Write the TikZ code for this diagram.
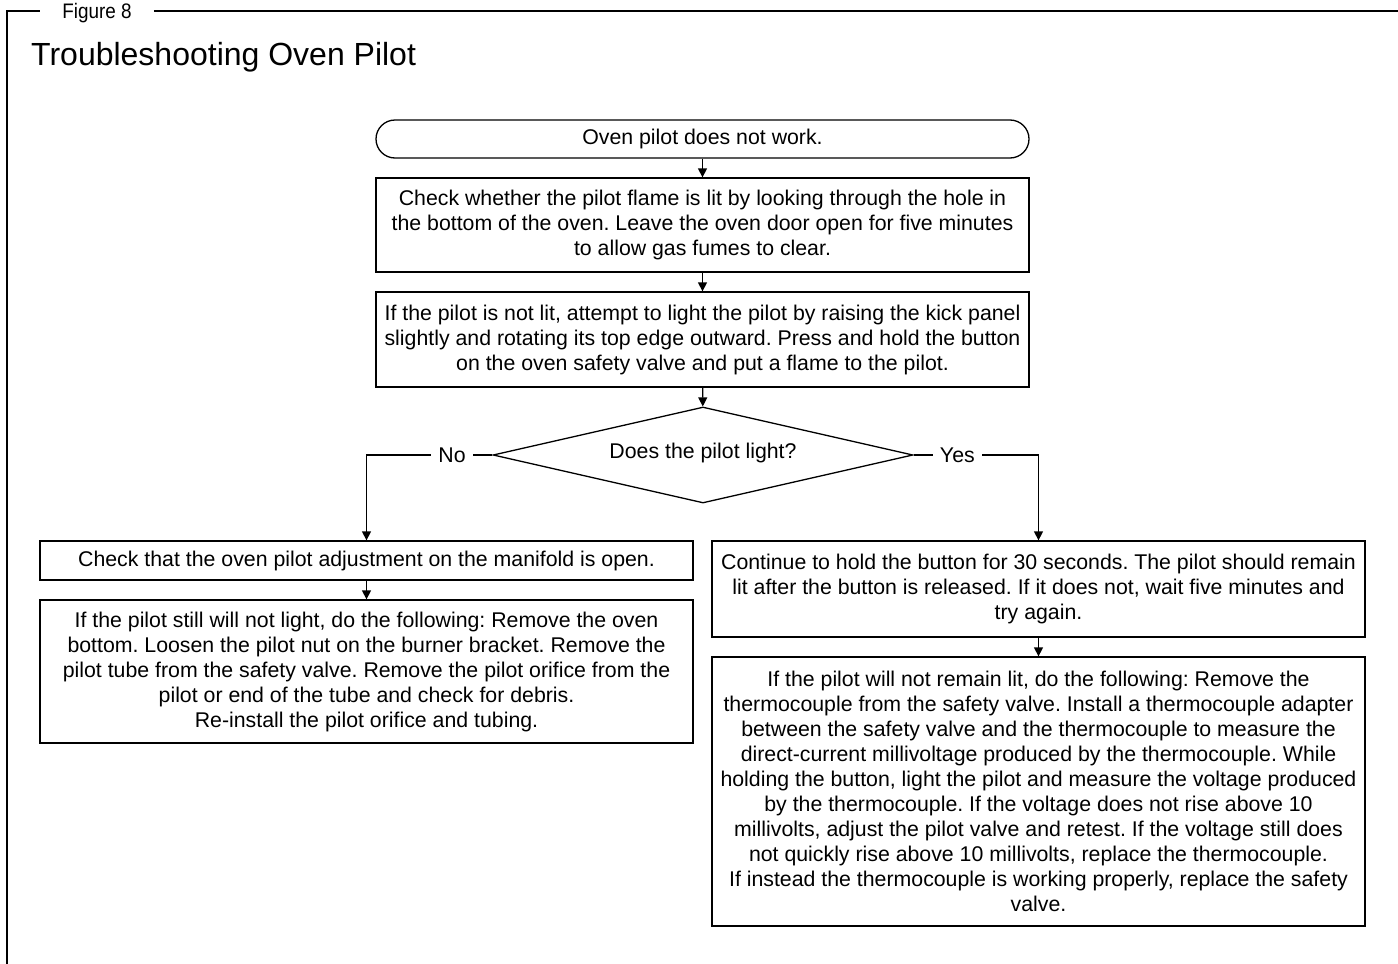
\documentclass[tikz,border=0pt]{standalone}
\usepackage{fontspec}
\setmainfont{Liberation Sans}
\usetikzlibrary{arrows.meta,shapes.geometric}
\frenchspacing
\begin{document}
\begin{tikzpicture}[x=1pt,y=-1pt,
  txt/.style={font=\fontsize{21.3}{25}\selectfont},
  box/.style={txt,draw,line width=1.3pt,align=center,inner sep=0pt,minimum width=653pt},
  term/.style={box,rounded corners=19pt},
  dec/.style={txt,draw,line width=1.3pt,diamond,inner sep=0pt,minimum width=420pt,minimum height=96pt,aspect=4.4},
  conn/.style={line width=1.3pt,-{Triangle[length=9pt,width=9pt]}},
  lbl/.style={txt,fill=white,inner xsep=7pt,inner ysep=2pt},
  frame/.style={line width=2.8pt}]
\useasboundingbox (0,0) rectangle (1398,964);
% frame
\node[font=\fontsize{21}{25}\selectfont,inner sep=0pt] (fig) at (97,13) {\scalebox{0.9}[1]{Figure 8}};
\coordinate (fbl) at (7,964);
\coordinate (ftl) at (7,11);
\coordinate (fr) at (1398,11);
\draw[frame] (fbl) -- (ftl) -- ([xshift=-22pt]fig.west |- ftl);
\draw[frame] ([xshift=22pt]fig.east |- ftl) -- (fr);
\node[anchor=west,font=\fontsize{32}{36}\selectfont,inner sep=0pt] (title) at (31,57) {Troubleshooting Oven Pilot};
% nodes
\node[term,minimum height=38pt] (start) at (702.5,139) {Oven pilot does not work.};
\node[box,minimum height=94pt] (b1) at (702.5,225) {Check whether the pilot flame is lit by looking through the hole in\\the bottom of the oven. Leave the oven door open for five minutes\\to allow gas fumes to clear.};
\node[box,minimum height=95pt] (b2) at (702.5,339.5) {If the pilot is not lit, attempt to light the pilot by raising the kick panel\\slightly and rotating its top edge outward. Press and hold the button\\on the oven safety valve and put a flame to the pilot.};
\node[dec] (dia) at (703,455) {};
\node[txt,inner sep=0pt] (diat) at (703,453) {Does the pilot light?};
\node[box,minimum height=39pt] (l1) at (366.5,560.5) {Check that the oven pilot adjustment on the manifold is open.};
\node[box,minimum height=143pt] (l2) at (366.5,671.5) {If the pilot still will not light, do the following: Remove the oven\\bottom. Loosen the pilot nut on the burner bracket. Remove the\\pilot tube from the safety valve. Remove the pilot orifice from the\\pilot or end of the tube and check for debris.\\Re-install the pilot orifice and tubing.};
\node[box,minimum height=96pt] (r1) at (1038.5,589) {Continue to hold the button for 30 seconds. The pilot should remain\\lit after the button is released. If it does not, wait five minutes and\\try again.};
\node[box,minimum height=269pt] (r2) at (1038.5,791.5) {If the pilot will not remain lit, do the following: Remove the\\thermocouple from the safety valve. Install a thermocouple adapter\\between the safety valve and the thermocouple to measure the\\direct-current millivoltage produced by the thermocouple. While\\holding the button, light the pilot and measure the voltage produced\\by the thermocouple. If the voltage does not rise above 10\\millivolts, adjust the pilot valve and retest. If the voltage still does\\not quickly rise above 10 millivolts, replace the thermocouple.\\If instead the thermocouple is working properly, replace the safety\\valve.};
% connectors
\draw[conn] (start) -- (b1);
\draw[conn] (b1) -- (b2);
\draw[conn] (b2) -- (dia);
\draw[conn] (dia.west) -- node[lbl,pos=0.32]{No} (l1.north |- dia.west) -- (l1.north);
\draw[conn] (dia.east) -- node[lbl,pos=0.35]{Yes} (r1.north |- dia.east) -- (r1.north);
\draw[conn] (l1) -- (l2);
\draw[conn] (r1) -- (r2);
\end{tikzpicture}
\end{document}
